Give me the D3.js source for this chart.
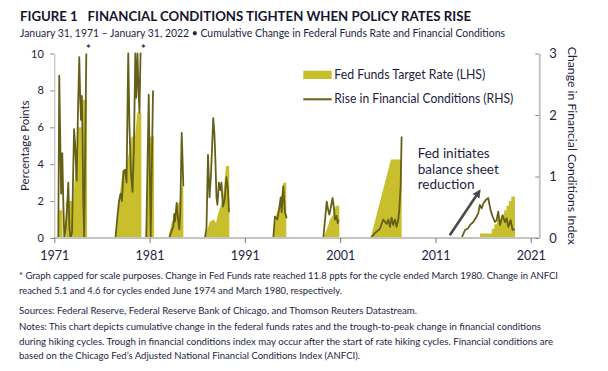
<!DOCTYPE html>
<html>
<head>
<meta charset="utf-8">
<script src="https://cdn.jsdelivr.net/npm/d3@7"></script>
<style>
body { margin: 0; background: #fff; }
svg text { font-family: Lato, "Open Sans", sans-serif; fill: #1e1e42; }
</style>
</head>
<body>
<script>
var width = 608, height = 371;

// axis ticks
var yearTicks = [1971, 1981, 1991, 2001, 2011, 2021];
var leftTicks = [0, 2, 4, 6, 8, 10];
var rightTicks = [0, 1, 2, 3];

// cumulative change in fed funds target rate per hiking cycle (LHS, ppts), [year, value]
var ffCycles = [
  [[1971.42, 0], [1971.47, 1.5], [1971.86, 1.5], [1971.87, 0]],
  [[1972.20, 0], [1972.21, 2.0], [1972.99, 2.0], [1973.49, 6.0], [1973.91, 6.0], [1973.94, 7.5], [1974.43, 7.5], [1974.44, 0]],
  [[1977.44, 0], [1977.72, 1.8], [1977.89, 2.4], [1978.18, 3.7], [1978.52, 3.7], [1979.12, 5.5], [1979.47, 5.5], [1979.71, 6.8], [1980.13, 6.8], [1980.14, 0]],
  [[1980.59, 0], [1980.73, 3.0], [1980.94, 5.5], [1981.46, 5.5], [1981.47, 0]],
  [[1982.96, 0], [1983.35, 0.9], [1983.67, 1.0], [1983.88, 1.8], [1984.19, 2.0], [1984.35, 2.8], [1984.54, 2.8], [1984.55, 0]],
  [[1986.81, 0], [1987.33, 0.9], [1987.76, 1.0], [1987.97, 0.8], [1988.21, 1.35], [1988.67, 2.05], [1989.02, 3.9], [1989.36, 3.9], [1989.37, 0]],
  [[1993.92, 0], [1994.34, 1.35], [1994.68, 1.9], [1995.03, 3.0], [1995.34, 3.0], [1995.35, 0]],
  [[1999.23, 0], [1999.62, 0.5], [1999.93, 1.0], [2000.25, 1.25], [2000.35, 1.5], [2000.56, 1.75], [2000.91, 1.75], [2000.92, 0]],
  [[2004.20, 0], [2006.33, 4.25], [2007.45, 4.25], [2007.46, 0]],
  [[2015.67, 0], [2015.68, 0.25], [2016.90, 0.25], [2016.92, 0.5], [2017.17, 0.5], [2017.19, 0.75], [2017.45, 0.75],
   [2017.47, 1.0], [2017.93, 1.0], [2017.95, 1.25], [2018.20, 1.25], [2018.22, 1.5], [2018.45, 1.5], [2018.47, 1.75],
   [2018.70, 1.75], [2018.72, 2.0], [2018.95, 2.0], [2018.97, 2.25], [2019.34, 2.25], [2019.35, 0]]
];

// trough-to-peak rise in ANFCI per cycle (RHS), capped at 3, [year, value]
var fciCycles = [
  [[1971.42, 0], [1971.52, 2.64], [1971.65, 1.35], [1971.72, 0.72], [1971.84, 1.38], [1971.94, 0.6], [1972.05, 0],
   [1972.18, 0.15], [1972.33, 0.45], [1972.47, 0.9], [1972.59, 0.15], [1972.70, 0], [1972.86, 0.09], [1973.07, 1.77],
   [1973.17, 1.56], [1973.35, 0.93], [1973.49, 2.1], [1973.62, 2.94], [1973.72, 2.28], [1973.80, 1.92], [1973.89, 2.31],
   [1973.96, 1.68], [1974.04, 0.6], [1974.14, 0], [1974.25, 1.5], [1974.36, 3.0]],
  [[1977.42, 0], [1977.63, 0.36], [1977.79, 0.6], [1977.95, 0.72], [1978.10, 0.6], [1978.26, 1.08], [1978.42, 1.11],
   [1978.58, 0.9], [1978.76, 3.0], [1978.89, 1.8], [1979.05, 1.05], [1979.21, 0.75], [1979.36, 1.5], [1979.50, 3.0],
   [1979.60, 2.28], [1979.73, 3.0], [1979.84, 2.4], [1979.94, 2.04], [1980.05, 3.0], [1980.13, 3.0]],
  [[1980.65, 0], [1980.91, 2.33], [1981.12, 0], [1981.36, 2.4]],
  [[1983.07, 0], [1983.32, 0.12], [1983.49, 0.18], [1983.59, 0.39], [1983.67, 0.27], [1983.84, 0.57], [1983.95, 0.36],
   [1984.12, 0.14], [1984.22, 0.41], [1984.37, 1.71], [1984.43, 1.44], [1984.54, 0.84]],
  [[1986.81, 0], [1986.97, 0.15], [1987.13, 1.35], [1987.29, 0.66], [1987.44, 1.02], [1987.68, 1.95], [1987.81, 1.68],
   [1987.92, 1.2], [1988.02, 0.66], [1988.12, 0.54], [1988.28, 0.9], [1988.44, 0.78], [1988.54, 0.9], [1988.70, 0.51],
   [1988.86, 0.6], [1989.07, 0.99], [1989.23, 0.78], [1989.33, 0.42]],
  [[1993.98, 0], [1994.16, 0.35], [1994.40, 0.3], [1994.58, 0.45], [1994.76, 0.66], [1994.86, 0.42], [1995.03, 0.84],
   [1995.21, 0.42], [1995.39, 0.32]],
  [[1999.23, 0], [1999.41, 0.29], [1999.59, 0.59], [1999.75, 0.45], [1999.86, 0.38], [2000.00, 0.48], [2000.21, 0.65],
   [2000.35, 0.48], [2000.46, 0.3], [2000.63, 0.36], [2000.74, 0.24], [2000.84, 0.3]],
  [[2004.20, 0], [2004.65, 0.08], [2005.18, 0.15], [2005.52, 0.3], [2005.88, 0.23], [2006.05, 0.3], [2006.23, 0.18],
   [2006.40, 0.33], [2006.57, 0.21], [2006.75, 0.3], [2006.93, 0.18], [2007.10, 0.3], [2007.20, 0.45], [2007.35, 0.84],
   [2007.45, 1.65]],
  [[2013.75, 0], [2014.10, 0.13], [2014.44, 0.16], [2014.62, 0.21], [2014.97, 0.26], [2015.32, 0.35], [2015.49, 0.4],
   [2015.67, 0.54], [2015.85, 0.48], [2016.02, 0.56], [2016.30, 0.62], [2016.54, 0.65], [2016.79, 0.45], [2017.00, 0.35],
   [2017.24, 0.26], [2017.42, 0.29], [2017.59, 0.43], [2017.77, 0.21], [2018.05, 0.37], [2018.29, 0.26], [2018.47, 0.32],
   [2018.64, 0.18], [2018.89, 0.29], [2019.10, 0.13], [2019.34, 0.14]]
];

// points where the series were capped (marked with *)
var cappedYears = [1974.57, 1980.34];

var footnotes = [
  "* Graph capped for scale purposes. Change in Fed Funds rate reached 11.8 ppts for the cycle ended March 1980. Change in ANFCI",
  "reached 5.1 and 4.6 for cycles ended June 1974 and March 1980, respectively."
];
var notes = [
  "Sources: Federal Reserve, Federal Reserve Bank of Chicago, and Thomson Reuters Datastream.",
  "Notes: This chart depicts cumulative change in the federal funds rates and the trough-to-peak change in financial conditions",
  "during hiking cycles. Trough in financial conditions index may occur after the start of rate hiking cycles. Financial conditions are",
  "based on the Chicago Fed\u2019s Adjusted National Financial Conditions Index (ANFCI)."
];

var areaColor = "#c9bf2d", lineColor = "#656019";

var svg = d3.select("body").append("svg")
    .attr("width", width)
    .attr("height", height);

var x = d3.scaleLinear().domain([1971, 2021.9]).range([54.3, 539.3]);
var yL = d3.scaleLinear().domain([0, 10]).range([238, 53.5]);
var yR = d3.scaleLinear().domain([0, 3]).range([238, 53.5]);

// title
svg.append("text").attr("x", 20).attr("y", 21)
    .attr("font-size", 14).attr("font-weight", "bold").style("fill", "#15152e")
    .attr("textLength", 451).attr("lengthAdjust", "spacingAndGlyphs")
    .text("FIGURE 1\u2002 FINANCIAL CONDITIONS TIGHTEN WHEN POLICY RATES RISE");
svg.append("text").attr("x", 20).attr("y", 36.5)
    .attr("font-size", 10.5)
    .attr("textLength", 485).attr("lengthAdjust", "spacingAndGlyphs")
    .text("January 31, 1971 \u2013 January 31, 2022 \u2022 Cumulative Change in Federal Funds Rate and Financial Conditions");

// fed funds areas
var area = d3.area()
    .x(function (d) { return x(d[0]); })
    .y0(yL(0))
    .y1(function (d) { return yL(d[1]); });

svg.append("g").selectAll("path")
    .data(ffCycles)
    .enter().append("path")
    .attr("d", area)
    .attr("fill", areaColor);

// financial conditions lines
var line = d3.line()
    .x(function (d) { return x(d[0]); })
    .y(function (d) { return yR(d[1]); });

svg.append("g").selectAll("path")
    .data(fciCycles)
    .enter().append("path")
    .attr("d", line)
    .attr("fill", "none")
    .attr("stroke", lineColor)
    .attr("stroke-width", 1.8)
    .attr("stroke-linejoin", "round");

// axes
var xAxis = svg.append("g")
    .attr("transform", "translate(0," + yL(0) + ")")
    .call(d3.axisBottom(x).tickValues(yearTicks).tickFormat(d3.format("d")).tickSize(5).tickSizeOuter(0).tickPadding(8));
xAxis.select(".domain").attr("stroke", "#c4c4c4").attr("stroke-width", 2.2)
    .attr("d", "M" + (x.range()[0] - 1) + ",0H" + x.range()[1]);
xAxis.selectAll(".tick line").attr("stroke", "#777");
xAxis.selectAll("text").attr("font-family", "Liberation Serif, serif").attr("font-size", 12.5);

var yAxisL = svg.append("g")
    .attr("transform", "translate(" + x.range()[0] + ",0)")
    .call(d3.axisLeft(yL).tickValues(leftTicks).tickSize(4).tickSizeOuter(0).tickPadding(6.5));
yAxisL.select(".domain").attr("stroke", "#b5b5b5");
yAxisL.selectAll(".tick line").attr("stroke", "#888");
yAxisL.selectAll("text").attr("font-family", "Noto Sans, sans-serif").attr("font-size", 11);

var yAxisR = svg.append("g")
    .attr("transform", "translate(" + x.range()[1] + ",0)")
    .call(d3.axisRight(yR).tickValues(rightTicks).tickFormat(d3.format("d"))
        .tickSizeInner(-4).tickSizeOuter(0).tickPadding(10));
yAxisR.select(".domain").attr("stroke", "#c4c4c4").attr("stroke-width", 2);
yAxisR.selectAll(".tick line").attr("stroke", "#888");
yAxisR.selectAll("text").attr("font-family", "Noto Sans, sans-serif").attr("font-size", 13);

// axis titles
svg.append("text")
    .attr("transform", "translate(28.5," + yL(5) + ") rotate(-90)")
    .attr("text-anchor", "middle").attr("font-family", "Noto Sans, sans-serif").attr("font-size", 11.5)
    .text("Percentage Points");
svg.append("text")
    .attr("transform", "translate(567.5," + yL(5) + ") rotate(90)")
    .attr("text-anchor", "middle").attr("font-family", "Noto Sans, sans-serif").attr("font-size", 12)
    .attr("textLength", 198).attr("lengthAdjust", "spacingAndGlyphs")
    .text("Change in Financial Conditions Index");

// capped markers
svg.append("g").selectAll("text")
    .data(cappedYears)
    .enter().append("text")
    .attr("x", function (d) { return x(d); })
    .attr("y", yL(10) - 1)
    .attr("text-anchor", "middle")
    .attr("font-size", 11).attr("font-weight", "bold")
    .text("*");

// legend
var legend = svg.append("g").attr("transform", "translate(303.3,0)");
legend.append("rect").attr("x", 0).attr("y", 70.7).attr("width", 28.4).attr("height", 8.3).attr("fill", areaColor);
legend.append("text").attr("x", 31).attr("y", 79).attr("font-size", 12.5)
    .attr("textLength", 151).attr("lengthAdjust", "spacingAndGlyphs")
    .text("Fed Funds Target Rate (LHS)");
legend.append("line").attr("x1", 0).attr("x2", 28.4).attr("y1", 99.3).attr("y2", 99.3)
    .attr("stroke", lineColor).attr("stroke-width", 2);
legend.append("text").attr("x", 31).attr("y", 102.7).attr("font-size", 12.5)
    .attr("textLength", 179).attr("lengthAdjust", "spacingAndGlyphs")
    .text("Rise in Financial Conditions (RHS)");

// annotation
var note = svg.append("text").attr("font-size", 13.5);
["Fed initiates", "balance sheet", "reduction"].forEach(function (t, i) {
    note.append("tspan").attr("x", 417.7).attr("y", 158.3 + i * 15.5).text(t);
});
svg.append("defs").append("marker")
    .attr("id", "arrow").attr("viewBox", "0 0 10 10").attr("refX", 5).attr("refY", 5)
    .attr("markerWidth", 3.2).attr("markerHeight", 3.2).attr("orient", "auto")
    .append("path").attr("d", "M0,0L10,5L0,10z").attr("fill", "#4a4a4a");
svg.append("line")
    .attr("x1", x(2012.5)).attr("y1", yL(0.15))
    .attr("x2", x(2015.5)).attr("y2", yL(2.45))
    .attr("stroke", "#4a4a4a").attr("stroke-width", 2.6)
    .attr("marker-end", "url(#arrow)");

// footnotes
var foot = svg.append("g").attr("font-size", 9.3).style("fill", "#22223f");
var footWidths = [539, 323];
footnotes.forEach(function (t, i) {
    foot.append("text").attr("x", 19).attr("y", 279 + i * 14.5)
        .attr("textLength", footWidths[i]).attr("lengthAdjust", "spacingAndGlyphs").text(t);
});
var noteWidths = [398, 522, 534, 341];
notes.forEach(function (t, i) {
    foot.append("text").attr("x", 19).attr("y", 314 + (i ? 2 + i * 14.3 : 0))
        .attr("textLength", noteWidths[i]).attr("lengthAdjust", "spacingAndGlyphs").text(t);
});
</script>
</body>
</html>
